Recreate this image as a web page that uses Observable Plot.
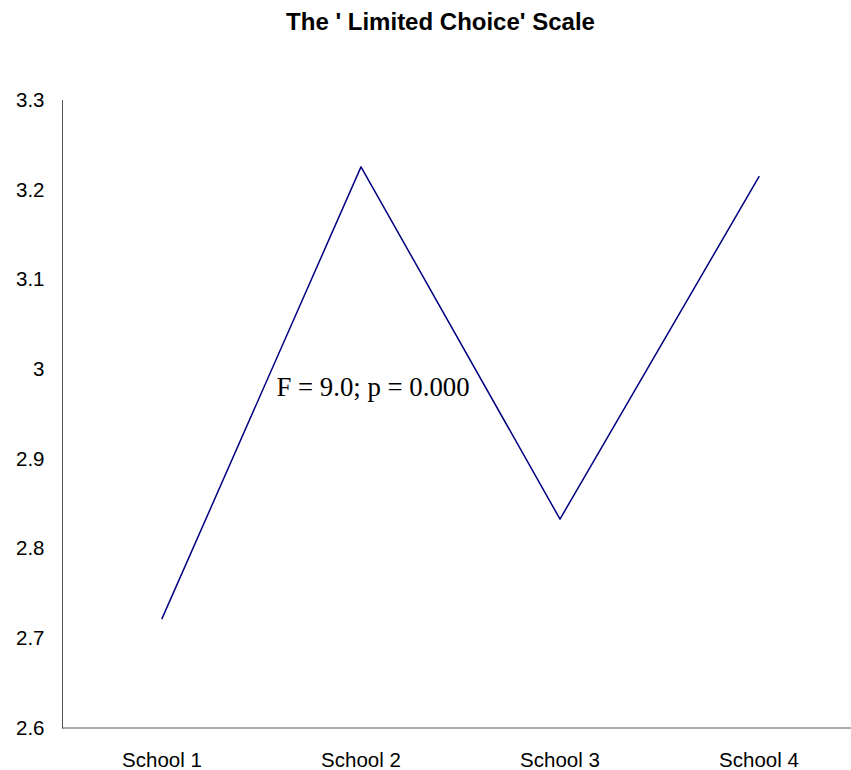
<!DOCTYPE html>
<html>
<head>
<meta charset="utf-8">
<script src="https://cdn.jsdelivr.net/npm/d3@7"></script>
<script src="https://cdn.jsdelivr.net/npm/@observablehq/plot@0.6"></script>
<style>
  html, body { margin: 0; padding: 0; background: #fff; }
  #title { width: 851px; height: 44px; line-height: 44px; text-align: center; box-sizing: border-box; padding-left: 30px;
    font-family: "Liberation Sans", Arial, sans-serif; font-weight: bold; font-size: 24px; color: #000; }
  #chart svg { display: block; }
</style>
</head>
<body>
<div id="title">The ' Limited Choice' Scale</div>
<div id="chart"></div>
<script>
const schools = ["School 1", "School 2", "School 3", "School 4"];
const means = [2.722, 3.226, 2.833, 3.215];
const yTicks = [2.6, 2.7, 2.8, 2.9, 3.0, 3.1, 3.2, 3.3];
const yTickLabels = ["2.6", "2.7", "2.8", "2.9", "3", "3.1", "3.2", "3.3"];
const annotation = "F = 9.0; p = 0.000";
const annotationAt = {school: "School 2", value: 2.98};

const data = schools.map((s, i) => ({school: s, mean: means[i]}));

const chart = Plot.plot({
  width: 851,
  height: 726,
  marginLeft: 62,
  marginRight: 0,
  marginTop: 56,
  marginBottom: 42.5,
  style: {fontFamily: "'Liberation Sans', Arial, sans-serif", fontSize: "20.5px", color: "#000", background: "#fff"},
  x: {type: "band", domain: schools, range: [61, 858], padding: 0, label: null},
  y: {domain: [2.6, 3.3], range: [683.5, 56], label: null},
  marks: [
    Plot.axisY({ticks: yTicks, tickFormat: (d, i) => yTickLabels[i], tickSize: 0, tickPadding: 18, fontSize: 20.5, label: null}),
    Plot.axisX({tickSize: 0, tickPadding: 24, fontSize: 20.5, label: null}),
    Plot.frame({anchor: "left", stroke: "#555", strokeOpacity: 1}),
    Plot.frame({anchor: "bottom", stroke: "#555", strokeOpacity: 1}),
    Plot.line(data, {x: "school", y: "mean", stroke: "#000080", strokeWidth: 1.5}),
    Plot.text([annotationAt], {x: "school", y: "value", text: () => annotation, dx: 12,
      fontFamily: "'Liberation Serif', 'Times New Roman', serif", fontSize: 26.8, fill: "#000", textAnchor: "middle"})
  ]
});
document.getElementById("chart").appendChild(chart);
</script>
</body>
</html>
